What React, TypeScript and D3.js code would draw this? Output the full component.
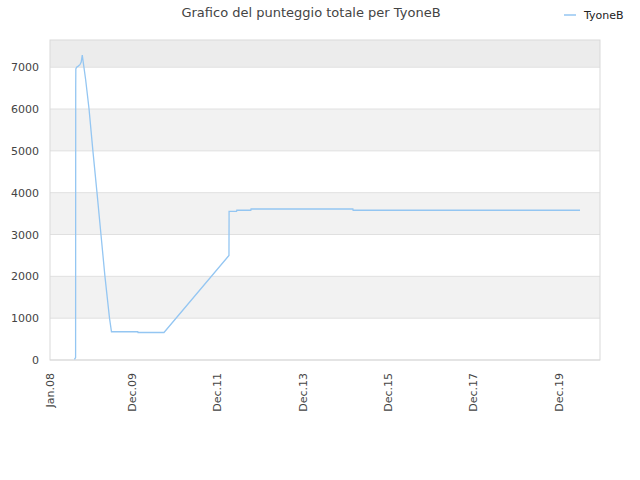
import React, { useRef, useEffect } from 'react';
import * as d3 from 'd3';

// Punteggio di TyoneB nel tempo
const scoreDates: string[] = [
	'2008-07-28', '2008-08-07', '2008-08-08', '2008-08-09', '2008-08-16', '2008-08-27',
	'2008-09-13', '2008-09-24', '2008-10-03', '2008-11-01', '2008-11-30', '2009-01-02',
	'2009-02-06', '2009-03-12', '2009-04-15', '2009-05-24', '2009-06-10', '2010-01-21',
	'2010-01-23', '2010-09-02', '2012-03-11', '2012-03-12', '2012-05-15', '2012-05-17',
	'2012-09-14', '2012-09-16', '2015-02-04', '2015-02-06', '2020-05-31',
];
const scoreValues: number[] = [
	15, 60, 6500, 6960, 7000, 7020,
	7060, 7120, 7290, 6700, 6000, 5000,
	4000, 3000, 2000, 1000, 675, 675,
	657, 657, 2500, 3555, 3555, 3580,
	3580, 3610, 3610, 3580, 3580,
];

const xDomain: string[] = ['2008-01-01', '2020-11-18'];
const xTickDates: string[] = ['2008-01-01', '2009-12-01', '2011-12-01', '2013-12-01', '2015-12-01', '2017-12-01', '2019-12-01'];
const xTickLabels: string[] = ['Jan.08', 'Dec.09', 'Dec.11', 'Dec.13', 'Dec.15', 'Dec.17', 'Dec.19'];
const yTicks: number[] = [0, 1000, 2000, 3000, 4000, 5000, 6000, 7000];
const yMaxValue = 7650;

const seriesName = 'TyoneB';
const chartTitle = 'Grafico del punteggio totale per TyoneB';

const width = 640;
const height = 480;
const marginTop = 40;
const marginRight = 40;
const marginBottom = 120;
const marginLeft = 50;

const lineColor = '#94c6f2';
const font = '"DejaVu Sans", Verdana, sans-serif';

const parseDate = d3.timeParse('%Y-%m-%d');

interface ScorePoint {
	date: Date;
	value: number;
}

const App: React.FC = () => {
	const svgRef = useRef<SVGSVGElement | null>(null);

	useEffect(() => {
		document.body.style.margin = '0';
		if (!svgRef.current) return;

		const data: ScorePoint[] = scoreDates.map((d, i) => ({ date: parseDate(d) as Date, value: scoreValues[i] }));

		const x = d3.scaleTime()
			.domain(xDomain.map(d => parseDate(d) as Date))
			.range([marginLeft, width - marginRight]);

		const y = d3.scaleLinear()
			.domain([0, yMaxValue])
			.range([height - marginBottom, marginTop]);

		const svg = d3.select(svgRef.current)
			.attr('width', width)
			.attr('height', height)
			.attr('viewBox', [0, 0, width, height].join(' '))
			.style('display', 'block')
			.style('font-family', font);

		const plotW = width - marginLeft - marginRight;

		// alternating bands
		const bandEdges = [...yTicks, yMaxValue];
		bandEdges.slice(0, -1).forEach((lo, i) => {
			const hi = bandEdges[i + 1];
			let fill = i % 2 === 1 ? '#f2f2f2' : '#ffffff';
			if (lo === 7000) fill = '#ececec';
			svg.append('rect')
				.attr('x', marginLeft)
				.attr('y', y(hi))
				.attr('width', plotW)
				.attr('height', y(lo) - y(hi))
				.attr('fill', fill);
		});

		// grid lines
		yTicks.forEach(t => {
			svg.append('line')
				.attr('x1', marginLeft)
				.attr('x2', width - marginRight)
				.attr('y1', y(t))
				.attr('y2', y(t))
				.attr('stroke', '#e0e0e0')
				.attr('stroke-width', 1);
		});

		// frame
		svg.append('rect')
			.attr('x', marginLeft)
			.attr('y', marginTop)
			.attr('width', plotW)
			.attr('height', height - marginBottom - marginTop)
			.attr('fill', 'none')
			.attr('stroke', '#d9d9d9')
			.attr('stroke-width', 1);

		// y-axis labels
		svg.append('g')
			.attr('transform', `translate(${marginLeft - 11},0)`)
			.call(d3.axisLeft(y).tickValues(yTicks).tickSize(0).tickPadding(0).tickFormat(d => String(d)))
			.call(g => g.select('.domain').remove())
			.call(g => g.selectAll('text')
				.attr('fill', '#444')
				.style('font-size', '11px')
				.style('font-family', font));

		// x-axis labels (rotated)
		const xTicks = xTickDates.map(d => parseDate(d) as Date);
		svg.append('g')
			.selectAll('text')
			.data(xTicks)
			.enter().append('text')
			.attr('transform', d => `translate(${x(d) + 4},${height - marginBottom + 13}) rotate(-90)`)
			.attr('text-anchor', 'end')
			.attr('fill', '#444')
			.style('font-size', '11px')
			.text((_, i) => xTickLabels[i]);

		// series line
		const line = d3.line<ScorePoint>()
			.x(d => x(d.date))
			.y(d => y(d.value));

		svg.append('path')
			.datum(data)
			.attr('fill', 'none')
			.attr('stroke', lineColor)
			.attr('stroke-width', 1.3)
			.attr('d', line);

		// title
		svg.append('text')
			.attr('x', 311)
			.attr('y', 17)
			.attr('text-anchor', 'middle')
			.attr('fill', '#444')
			.style('font-size', '13px')
			.text(chartTitle);

		// legend
		svg.append('line')
			.attr('x1', 564)
			.attr('x2', 576)
			.attr('y1', 15)
			.attr('y2', 15)
			.attr('stroke', lineColor)
			.attr('stroke-width', 1.5);

		svg.append('text')
			.attr('x', 584)
			.attr('y', 18.5)
			.attr('fill', '#222')
			.style('font-size', '11px')
			.text(seriesName);

		return () => { svg.selectAll('*').remove(); };
	}, []);

	return <svg ref={svgRef} />;
};

export default App;
